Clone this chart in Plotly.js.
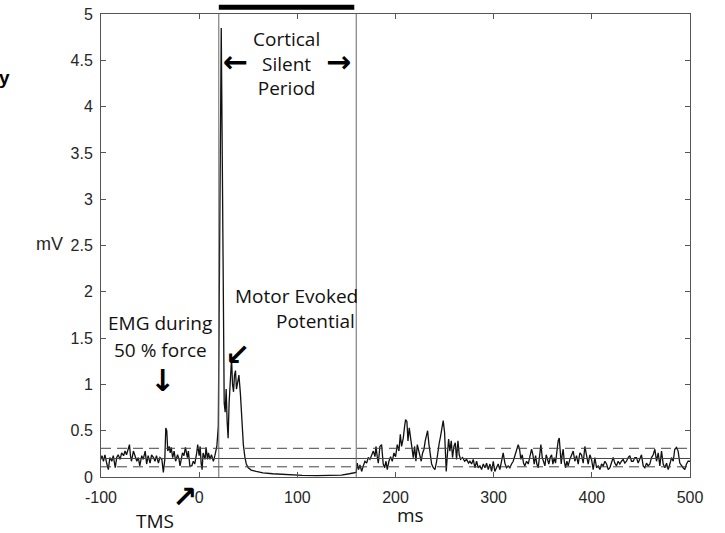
<!DOCTYPE html>
<html>
<head>
<meta charset="utf-8">
<script src="https://cdn.plot.ly/plotly-3.0.1.min.js"></script>
<style>html,body{margin:0;padding:0;background:#fff;}#chart{width:725px;height:533px;}</style>
</head>
<body>
<div id="chart"></div>
<script>
// ---- data ----
const timeMs = [
-100,-99,-97.5,-96,-94,-92.5,-91,-89,-87.5,-85.5,-84,-82.5,-80.5,-79,-77,-75.5,-74,-72,-71,-70,
-69,-67,-65.5,-63.5,-62,-60.5,-58.5,-57,-55,-53.5,-52,-50,-48.5,-46.5,-45,-43.5,-41.5,-40,-38,-36.5,
-35,-34,-33,-32,-30.5,-29.5,-28.5,-27,-25.5,-24,-22,-20.5,-19.5,-18.5,-17,-15.5,-14,-12,-11,-9.5,
-7.5,-6,-4.5,-2.5,-1.5,0,1,2,3,4,6,7,8.5,9.5,11,12.5,14.5,16,18,
19.5,21,22.5,23.5,24.5,25.5,26.5,27.5,28.5,29.5,
30.5,32,33,34,35,36,37,38,39.5,40.5,
42,43.5,45,46.5,48,50,53,58,65,75,
90,105,120,135,145,153,160,
161,162.4,163.8,165.5,167.2,168.9,170.6,172.3,174,175.7,
177.4,179.1,180.1,181.4,182.5,184.1,185.8,187.5,188.9,190.3,
191.6,193.3,195,196.7,198.4,200.1,201.8,203.5,204.9,206.2,
207.9,209.3,210.3,211.6,212.7,214,215.4,216.7,218.1,219.5,
220.8,222.2,223.5,224.9,226.2,227.6,229,230.3,231.7,232.7,
234.1,235.4,236.8,238.5,240.2,241.9,243.2,244.6,245.9,247.3,
248.6,250,251,251.7,252.7,254.1,255.4,256.8,258.1,259.5,
260.9,262.2,263.6,264.9,266.3,268.3,270.4,272.4,274.4,
275.8,277.5,279.2,280.9,282.6,284.3,286,287.7,289.4,291.1,
292.8,294.5,296.2,297.9,299.6,301.2,303,304.6,306.3,308,
309.7,311.4,313.1,314.8,316.5,318.2,319.9,321.6,323.3,325,
326.4,327.7,329.1,330.4,331.8,333.5,335.2,336.9,338.6,340,
341.3,342.7,344,345.4,346.7,348.1,349.5,350.8,352.2,353.5,
354.9,356.2,357.6,359,360.3,361.7,363,364.4,365.7,366.8,
367.8,368.8,369.8,370.8,371.9,373.2,374.6,375.9,377.6,379.3,
381,382.7,384.4,386.1,387.8,
389.5,391.2,392.9,394.6,396.3,398,399.7,401.4,403.1,404.8,
406.5,408.2,409.9,411.6,413.3,415,416.7,418.4,420,421.7,
423.4,425.1,426.8,428.5,430.2,431.9,433.6,435.3,437,438.7,
440.4,442.1,443.8,445.5,447.2,448.9,450.6,452.3,454,455.7,
457.4,459.1,460.8,462.5,464.2,465.9,467.6,469.3,471,472.7,
474.4,476.1,477.8,479.5,481.2,482.9,484.5,486.2,487.9,489.6,
491.3,493,494.7,496.4,498.1,500
];
const emgMv = [
0.19,0.23,0.17,0.24,0.14,0.08,0.21,0.17,0.23,0.10,0.21,0.24,0.19,0.26,0.23,0.28,0.24,0.32,0.35,0.23,
0.17,0.28,0.24,0.17,0.21,0.12,0.23,0.19,0.28,0.14,0.23,0.15,0.24,0.21,0.17,0.23,0.15,0.21,0.19,0.05,
0.19,0.53,0.50,0.28,0.33,0.26,0.32,0.21,0.28,0.17,0.24,0.19,0.12,0.19,0.26,0.23,0.32,0.21,0.28,0.12,
0.12,0.17,0.14,0.26,0.35,0.23,0.33,0.15,0.08,0.26,0.19,0.32,0.19,0.26,0.19,0.24,0.17,0.23,0.33,
0.55,2.6,4.85,3.5,1.5,0.8,0.7,0.95,0.6,0.42,
0.8,1.05,1.28,1.0,0.92,1.1,1.15,0.95,1.05,1.1,
0.9,0.6,0.35,0.22,0.14,0.1,0.075,0.06,0.045,0.035,
0.025,0.018,0.015,0.015,0.02,0.035,0.05,
0.15,0.08,0.13,0.06,0.12,0.17,0.15,0.21,0.19,0.24,
0.28,0.22,0.33,0.22,0.15,0.33,0.35,0.14,0.10,0.17,
0.08,0.17,0.22,0.17,0.26,0.22,0.35,0.28,0.46,0.33,
0.42,0.55,0.62,0.60,0.39,0.53,0.42,0.33,0.21,0.33,
0.17,0.35,0.28,0.21,0.17,0.26,0.30,0.39,0.46,0.50,
0.35,0.22,0.14,0.10,0.08,0.17,0.28,0.37,0.44,0.53,
0.61,0.48,0.22,0.06,0.22,0.41,0.28,0.39,0.21,0.33,
0.37,0.19,0.39,0.24,0.19,0.21,0.17,0.19,0.15,
0.17,0.14,0.19,0.10,0.17,0.10,0.12,0.08,0.14,0.10,
0.15,0.08,0.14,0.06,0.17,0.06,0.10,0.14,0.08,0.17,
0.26,0.15,0.10,0.12,0.10,0.14,0.17,0.23,0.28,0.35,
0.30,0.19,0.24,0.15,0.12,0.17,0.14,0.24,0.30,0.24,
0.14,0.23,0.14,0.10,0.21,0.35,0.21,0.15,0.12,0.24,
0.17,0.14,0.21,0.24,0.14,0.21,0.15,0.30,0.39,0.42,
0.30,0.14,0.24,0.30,0.17,0.10,0.17,0.12,0.19,0.24,
0.28,0.17,0.23,0.14,0.26,
0.24,0.15,0.33,0.21,0.14,0.24,0.19,0.08,0.21,0.10,
0.12,0.08,0.14,0.12,0.17,0.14,0.08,0.10,0.17,0.21,
0.15,0.12,0.17,0.14,0.17,0.19,0.15,0.17,0.21,0.23,
0.17,0.17,0.21,0.21,0.15,0.19,0.24,0.12,0.10,0.15,
0.12,0.14,0.21,0.24,0.30,0.17,0.26,0.12,0.28,0.14,
0.10,0.15,0.08,0.14,0.21,0.17,0.30,0.32,0.28,0.15,
0.12,0.10,0.08,0.14,0.17,0.17
];
const meanLevel = 0.2;                 // solid horizontal line (mV)
const thresholdLevels = [0.11, 0.31];  // dashed horizontal lines (mV)
const silentPeriodBounds = [20, 160];  // vertical lines (ms)
const silentPeriodBar = [20, 158];     // thick bar above the plot (ms)
const xTickVals = [-100, 0, 100, 200, 300, 400, 500];
const xTickLabels = ['-100', '0', '100', '200', '300', '400', '500'];
const yTickVals = [0, 0.5, 1, 1.5, 2, 2.5, 3, 3.5, 4, 4.5, 5];
const yTickLabels = ['0', '0.5', '1', '1.5', '2', '2.5', '3', '3.5', '4', '4.5', '5'];

// ---- chart ----
const axisColor = '#555555';
const textFont = 'Open Sans, Noto Sans, sans-serif';
const tickFont = {family: 'Liberation Sans, Arial, sans-serif', size: 16, color: '#262626'};

const traces = [{
  type: 'scatter', mode: 'lines', x: timeMs, y: emgMv,
  line: {color: '#111111', width: 1.3}, hoverinfo: 'skip'
}];

const shapes = [];
shapes.push({type: 'line', xref: 'paper', yref: 'y', x0: 0, x1: 1, y0: meanLevel, y1: meanLevel,
  line: {color: '#444', width: 1}});
thresholdLevels.forEach(v => shapes.push({type: 'line', xref: 'paper', yref: 'y', x0: 0, x1: 1, y0: v, y1: v,
  line: {color: '#444', width: 1, dash: '10px,6px'}}));
silentPeriodBounds.forEach(v => shapes.push({type: 'line', xref: 'x', yref: 'paper', x0: v, x1: v, y0: 0, y1: 1,
  line: {color: '#666', width: 1}}));
shapes.push({type: 'line', xref: 'x', yref: 'paper', x0: silentPeriodBar[0], x1: silentPeriodBar[1],
  y0: 1.0145, y1: 1.0145, line: {color: '#000', width: 5}});

const ann = (o) => Object.assign({showarrow: false, xanchor: 'center', yanchor: 'middle',
  font: {family: textFont, size: 19, color: '#111'}}, o);
const arrowFont = {family: 'DejaVu Sans', size: 30, color: '#000'};
const annotations = [
  ann({xref: 'x', yref: 'y', x: 88.5, y: 4.47, text: 'Cortical<br>Silent<br>Period', align: 'center'}),
  ann({xref: 'x', yref: 'y', x: 37.5, y: 4.49, text: '<b>←</b>', font: arrowFont}),
  ann({xref: 'x', yref: 'y', x: 141.5, y: 4.49, text: '<b>→</b>', font: arrowFont}),
  ann({xref: 'x', yref: 'y', x: 99.6, y: 1.96, text: 'Motor Evoked'}),
  ann({xref: 'x', yref: 'y', x: 118, y: 1.68, text: 'Potential'}),
  ann({xref: 'x', yref: 'y', x: 39.5, y: 1.32, text: '<b>↙</b>', font: arrowFont}),
  ann({xref: 'x', yref: 'y', x: -39.9, y: 1.66, text: 'EMG during'}),
  ann({xref: 'x', yref: 'y', x: -38.9, y: 1.37, text: '50 % force'}),
  ann({xref: 'x', yref: 'y', x: -36.9, y: 1.04, text: '<b>↓</b>', font: arrowFont}),
  ann({xref: 'paper', yref: 'paper', x: 0.0917, y: -0.096, text: 'TMS'}),
  ann({xref: 'paper', yref: 'paper', x: 0.1426, y: -0.042, text: '<b>↗</b>', font: arrowFont}),
  ann({xref: 'paper', yref: 'paper', x: -0.0866, y: 0.504, text: 'mV',
       font: {family: 'Liberation Sans, Arial, sans-serif', size: 18, color: '#262626'}}),
  ann({xref: 'paper', yref: 'paper', x: 0.526, y: -0.081, text: 'ms'}),
  ann({xref: 'paper', yref: 'paper', x: -0.151, y: 0.862, xanchor: 'right', text: '<b>y</b>',
       font: {family: 'Liberation Sans, Arial, sans-serif', size: 19, color: '#000'}})
];

const layout = {
  width: 725, height: 533,
  margin: {l: 101, r: 35, t: 14, b: 56, pad: 0},
  paper_bgcolor: '#ffffff', plot_bgcolor: '#ffffff',
  showlegend: false,
  font: {family: 'Liberation Sans, Arial, sans-serif', size: 16, color: '#262626'},
  xaxis: {
    range: [-100, 500], tickmode: 'array', tickvals: xTickVals, ticktext: xTickLabels,
    ticks: 'inside', ticklen: 5, tickwidth: 1, tickcolor: axisColor, ticklabelstandoff: 6,
    showline: true, linecolor: axisColor, linewidth: 1, mirror: 'ticks',
    showgrid: false, zeroline: false, fixedrange: true, tickfont: tickFont
  },
  yaxis: {
    range: [0, 5], tickmode: 'array', tickvals: yTickVals, ticktext: yTickLabels,
    ticks: 'inside', ticklen: 5, tickwidth: 1, tickcolor: axisColor, ticklabelstandoff: 4,
    showline: true, linecolor: axisColor, linewidth: 1, mirror: 'ticks',
    showgrid: false, zeroline: false, fixedrange: true, tickfont: tickFont
  },
  shapes: shapes,
  annotations: annotations
};

Plotly.newPlot('chart', traces, layout, {displayModeBar: false, staticPlot: true});
</script>
</body>
</html>
